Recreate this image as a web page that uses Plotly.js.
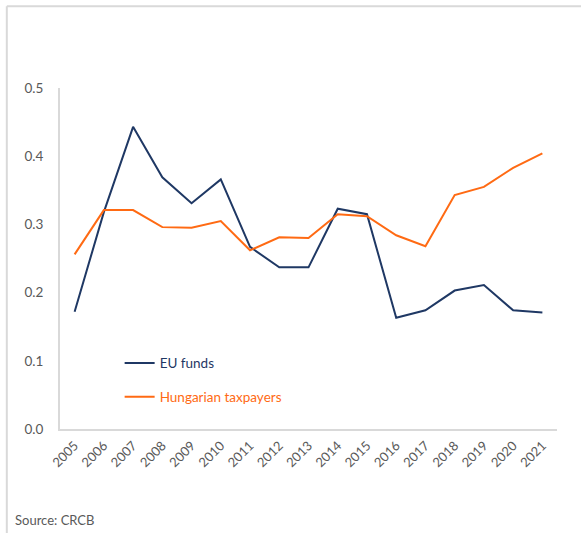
<!DOCTYPE html>
<html>
<head>
<meta charset="utf-8">
<script src="https://cdn.plot.ly/plotly-3.0.1.min.js"></script>
<style>
  html, body { margin: 0; padding: 0; background: #ffffff; }
  #chart { width: 581px; height: 533px; }
</style>
</head>
<body>
<div id="chart"></div>
<script>
const years = ["2005","2006","2007","2008","2009","2010","2011","2012","2013","2014","2015","2016","2017","2018","2019","2020","2021"];
const euFunds = [0.172, 0.318, 0.443, 0.369, 0.331, 0.366, 0.267, 0.237, 0.237, 0.323, 0.315, 0.163, 0.174, 0.203, 0.211, 0.174, 0.171];
const hungarianTaxpayers = [0.256, 0.321, 0.321, 0.296, 0.295, 0.305, 0.262, 0.281, 0.280, 0.315, 0.312, 0.284, 0.268, 0.343, 0.355, 0.383, 0.404];
const seriesNames = ["EU funds", "Hungarian taxpayers"];
const sourceText = "Source: CRCB";

const blue = "#1f3864";
const orange = "#ff6a13";
const grey = "#595959";
const lineGrey = "#d9d9d9";
const fontFamily = "Lato, 'Open Sans', sans-serif";

const traces = [
  {
    x: years, y: euFunds, type: "scatter", mode: "lines",
    name: '<span style="color:' + blue + '">' + seriesNames[0] + '</span>',
    line: { color: blue, width: 2 },
    legend: "legend"
  },
  {
    x: years, y: hungarianTaxpayers, type: "scatter", mode: "lines",
    name: '<span style="color:' + orange + '">' + seriesNames[1] + '</span>',
    line: { color: orange, width: 2 },
    legend: "legend2"
  }
];

const legendCommon = {
  xref: "paper", yref: "paper", xanchor: "left", yanchor: "middle",
  bgcolor: "rgba(0,0,0,0)", borderwidth: 0,
  font: { family: fontFamily, size: 13.5, color: grey }
};

const layout = {
  width: 581, height: 533,
  margin: { l: 60, r: 24, t: 88, b: 104 },
  paper_bgcolor: "#ffffff", plot_bgcolor: "#ffffff",
  font: { family: fontFamily, size: 13, color: grey },
  showlegend: true,
  legend: Object.assign({}, legendCommon, { x: 0.12, y: 0.193 }),
  legend2: Object.assign({}, legendCommon, { x: 0.12, y: 0.094 }),
  xaxis: {
    type: "category",
    range: [-0.5, years.length - 0.5],
    tickangle: -45,
    showgrid: false, zeroline: false,
    showline: true, linecolor: lineGrey, linewidth: 2,
    ticks: "",
    ticklabelstandoff: 2,
    tickfont: { family: fontFamily, size: 13, color: grey }
  },
  yaxis: {
    range: [0, 0.5], dtick: 0.1, tickformat: ".1f",
    showgrid: false, zeroline: false,
    showline: true, linecolor: lineGrey, linewidth: 2,
    ticks: "",
    ticklabelstandoff: 12,
    tickfont: { family: fontFamily, size: 13.5, color: grey }
  },
  shapes: [
    { type: "line", xref: "paper", yref: "paper", x0: -0.107, x1: 1.05, y0: 1.2395, y1: 1.2395,
      line: { color: lineGrey, width: 2 } },
    { type: "line", xref: "paper", yref: "paper", x0: -0.107, x1: -0.107, y0: 1.2395, y1: -0.31,
      line: { color: lineGrey, width: 2 } }
  ],
  annotations: [
    { text: sourceText, xref: "paper", yref: "paper", x: -0.095, y: -0.267,
      xanchor: "left", yanchor: "middle", showarrow: false,
      font: { family: fontFamily, size: 13, color: grey } }
  ]
};

Plotly.newPlot("chart", traces, layout, { displayModeBar: false, staticPlot: true });
</script>
</body>
</html>
